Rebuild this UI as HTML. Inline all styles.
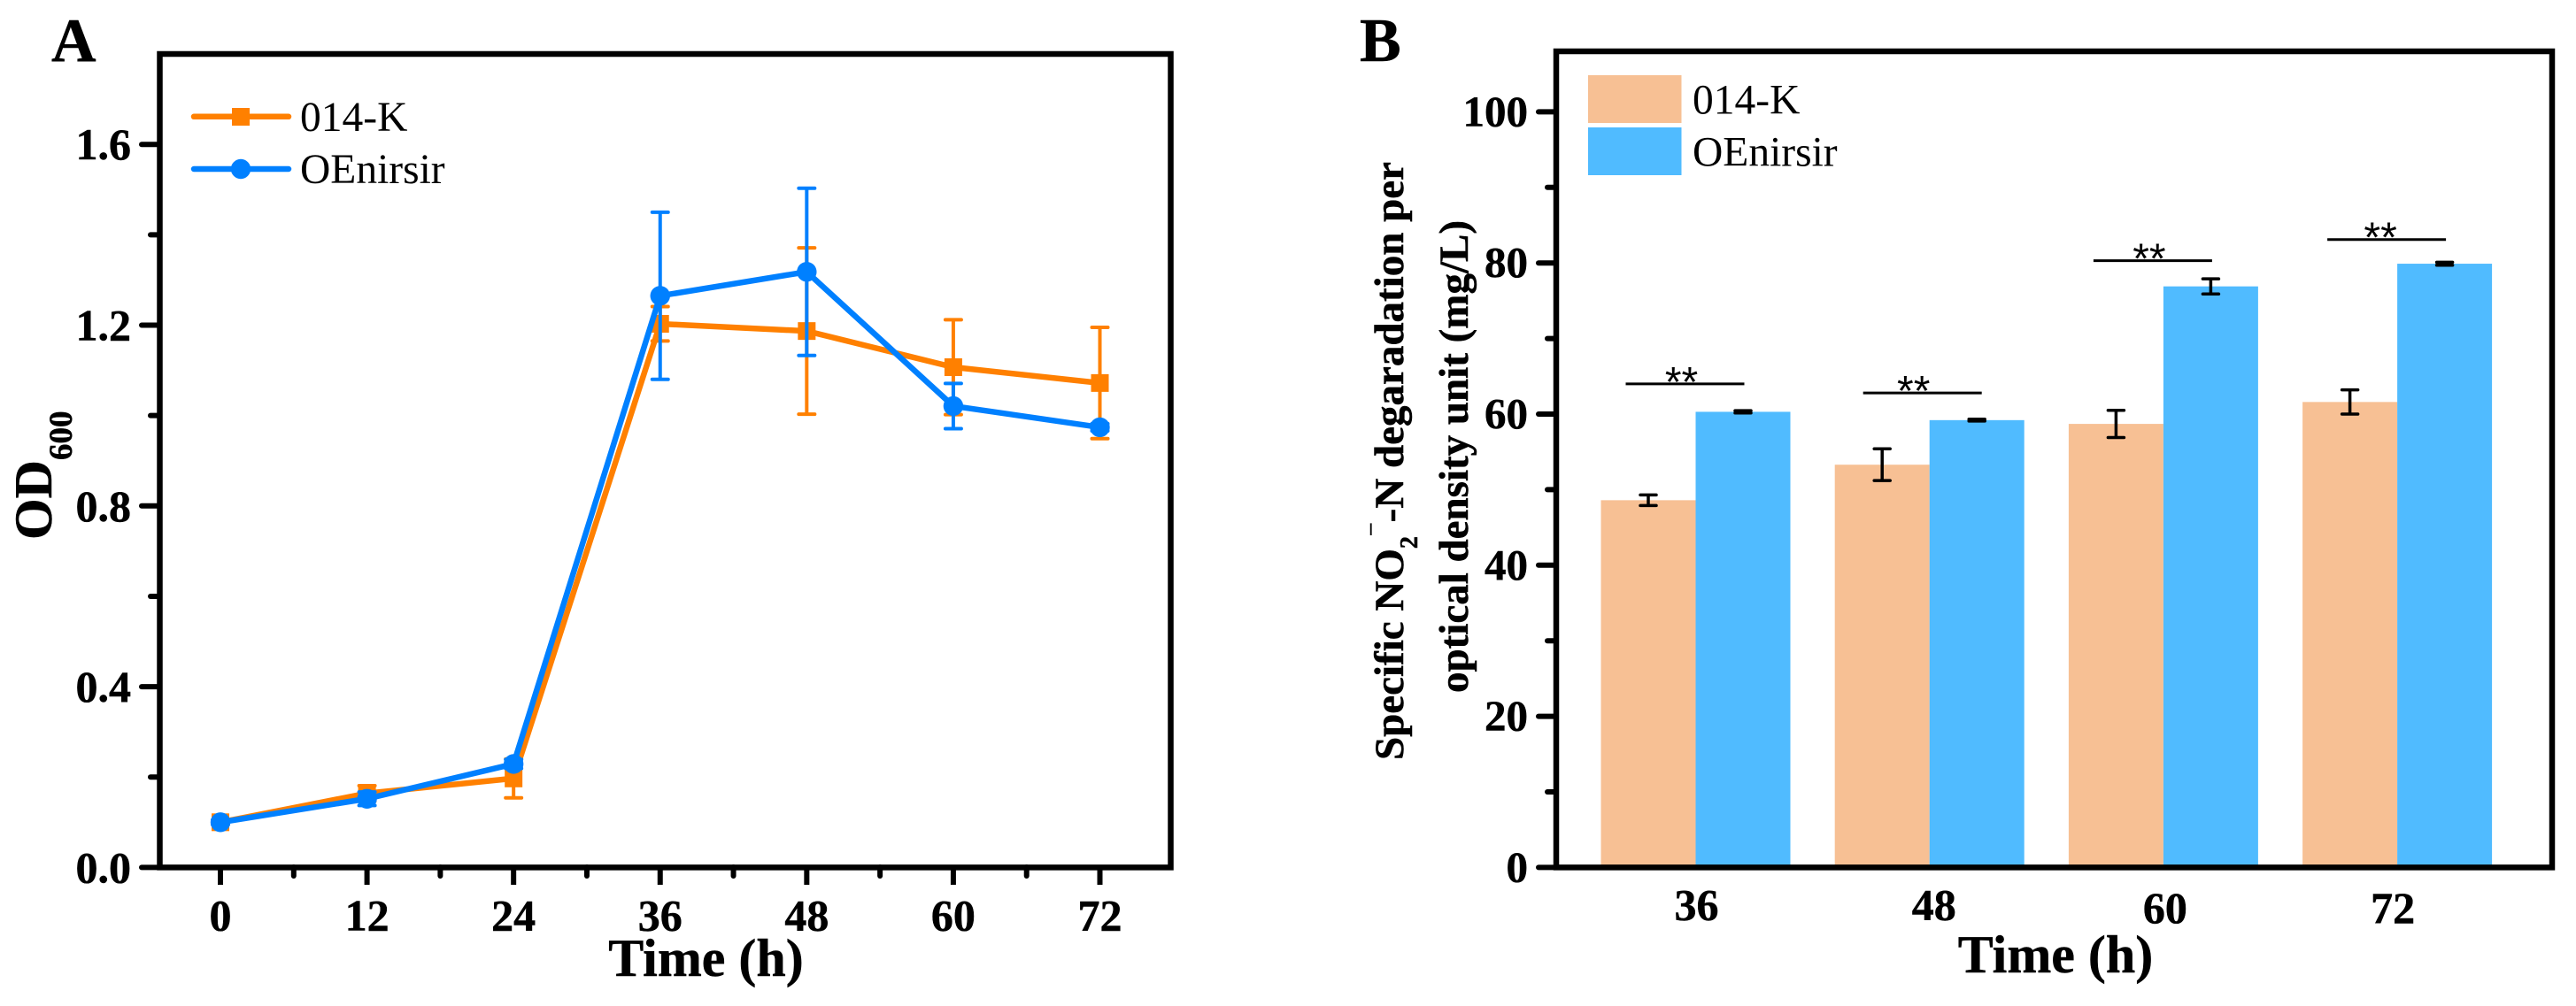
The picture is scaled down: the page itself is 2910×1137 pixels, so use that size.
<!DOCTYPE html>
<html lang="en">
<head>
<meta charset="utf-8">
<title>OD600 growth and specific nitrite degradation</title>
<style>
html,body{margin:0;padding:0;background:#fff;}
svg{display:block;}
text{font-family:"Liberation Serif","Times New Roman",serif;fill:#000;}
.bold{font-weight:bold;stroke:#000;stroke-width:0.5px;}
.stars{font-family:"Liberation Sans",Arial,sans-serif;}
</style>
</head>
<body>
<svg id="figure" xmlns="http://www.w3.org/2000/svg" width="2910" height="1137" viewBox="0 0 2910 1137">
  <rect x="0" y="0" width="2910" height="1137" fill="#fff"/>

  <g id="panel-a">
    <text class="bold" x="58" y="69.5" font-size="70">A</text>
    <g id="a-marks"></g>
    <rect x="180.5" y="61" width="1142" height="919.4" fill="none" stroke="#000" stroke-width="6.5"/>
    <g id="a-axes"></g>
    <text class="bold" font-size="60" transform="translate(58,610) rotate(-90)">OD<tspan font-size="37" dy="23">600</tspan></text>
    <text class="bold" font-size="60" x="797.5" y="1103" text-anchor="middle">Time (h)</text>
    <g>
      <g>
        <line x1="219" y1="131.8" x2="326" y2="131.8" stroke="#ff8000" stroke-width="6.5" stroke-linecap="round"/>
        <rect x="262" y="122" width="20" height="20" fill="#ff8000"/>
        <text x="339" y="148" font-size="47.5">014-K</text>
      </g>
      <g>
        <line x1="219" y1="191" x2="326" y2="191" stroke="#0080ff" stroke-width="6.5" stroke-linecap="round"/>
        <circle cx="272" cy="191" r="11.2" fill="#0080ff"/>
        <text x="339" y="207" font-size="47.5">OEnirsir</text>
      </g>
    </g>
  </g>

  <g id="panel-b">
    <text class="bold" x="1536" y="69" font-size="70">B</text>
    <g id="b-marks"></g>
    <rect x="1758" y="58" width="1125" height="922.4" fill="none" stroke="#000" stroke-width="6.5"/>
    <g id="b-axes"></g>
    <text class="bold" font-size="47" transform="translate(1585,859) rotate(-90)">Specific NO<tspan font-size="28" dy="16">2</tspan><tspan font-size="28" dy="-43" font-weight="normal">−</tspan><tspan dy="27">-N degaradation per</tspan></text>
    <text class="bold" font-size="47" x="0" y="0" transform="translate(1658,783) rotate(-90)">optical density unit (mg/L)</text>
    <text class="bold" font-size="60" x="2322" y="1099" text-anchor="middle">Time (h)</text>
    <g>
      <g>
        <rect x="1794" y="85" width="105.5" height="54" fill="#f7c094"/>
        <text x="1912" y="128.5" font-size="47.5">014-K</text>
      </g>
      <g>
        <rect x="1794" y="144" width="105.5" height="54" fill="#50bbff"/>
        <text x="1912" y="187.5" font-size="47.5">OEnirsir</text>
      </g>
    </g>
  </g>
</svg>

<script>
// ---------- Panel A data ----------
const hoursA = [0, 12, 24, 36, 48, 60, 72];
const k014Mean = [0.100, 0.164, 0.197, 1.203, 1.187, 1.107, 1.072];
const k014Err  = [0.005, 0.017, 0.043, 0.038, 0.184, 0.105, 0.123];
const oeMean   = [0.100, 0.152, 0.229, 1.265, 1.318, 1.021, 0.974];
const oeErr    = [0.005, 0.015, 0.010, 0.185, 0.185, 0.050, 0.008];
const yTicksA  = ['0.0', '0.4', '0.8', '1.2', '1.6'];
const yMinorA  = [0.2, 0.6, 1.0, 1.4];
const xMinorA  = [6, 18, 30, 42, 54, 66];

// ---------- Panel B data ----------
const hoursB = ['36', '48', '60', '72'];
const k014Bar = [48.6, 53.3, 58.7, 61.6];
const k014BarErr = [0.7, 2.1, 1.8, 1.6];
const oeBar = [60.3, 59.2, 76.9, 79.9];
const oeBarErr = [0.15, 0.12, 1.0, 0.2];
const sigLevels = [64.0, 62.8, 80.3, 83.1];
const sigLabels = ['**', '**', '**', '**'];
const yTicksB = ['0', '20', '40', '60', '80', '100'];
const yMinorB = [10, 30, 50, 70, 90];

// ---------- Axis functions ----------
const xA = v => 249 + (v / 72) * 993.5;
const yA = v => 980.4 - v * 510.75;
const xB = i => 1915.5 + i * 264.2;
const yB = v => 980.4 - v * 8.54;

const NS = 'http://www.w3.org/2000/svg';
function make(tag, attrs, parent, content) {
  const el = document.createElementNS(NS, tag);
  for (const k in attrs) el.setAttribute(k, attrs[k]);
  if (content !== undefined) el.textContent = content;
  parent.appendChild(el);
  return el;
}

const aMarks = document.getElementById('a-marks');
const aAxes = document.getElementById('a-axes');
const bMarks = document.getElementById('b-marks');
const bAxes = document.getElementById('b-axes');

// ---------- Panel A series ----------
function errorBars(mean, err, color, seriesName) {
  mean.forEach((m, i) => {
    const x = xA(hoursA[i]);
    const stem = make('line', {x1: x, x2: x, y1: yA(m + err[i]), y2: yA(m - err[i]), stroke: color, 'stroke-width': 4}, aMarks);
    
    
    [m + err[i], m - err[i]].forEach(v => {
      const cap = make('line', {x1: x - 9, x2: x + 9, y1: yA(v), y2: yA(v), stroke: color, 'stroke-width': 4, 'stroke-linecap': 'round'}, aMarks);
      
      
    });
  });
}
function seriesLine(mean, color, seriesName) {
  const pts = mean.map((m, i) => xA(hoursA[i]) + ',' + yA(m)).join(' ');
  const line = make('polyline', {points: pts, fill: 'none', stroke: color, 'stroke-width': 6.5, 'stroke-linejoin': 'round'}, aMarks);
  
  
}

errorBars(k014Mean, k014Err, '#ff8000', 'series-014-k');
seriesLine(k014Mean, '#ff8000', 'series-014-k');
k014Mean.forEach((m, i) => {
  const square = make('rect', {x: xA(hoursA[i]) - 10, y: yA(m) - 10, width: 20, height: 20, fill: '#ff8000'}, aMarks);
  
  
});
errorBars(oeMean, oeErr, '#0080ff', 'series-oenirsir');
seriesLine(oeMean, '#0080ff', 'series-oenirsir');
oeMean.forEach((m, i) => {
  const dot = make('circle', {cx: xA(hoursA[i]), cy: yA(m), r: 11.2, fill: '#0080ff'}, aMarks);
  
  
});

// ---------- Panel A axes ----------
yTicksA.forEach(label => {
  const v = parseFloat(label);
  const tick = make('line', {x1: 160, x2: 180, y1: yA(v), y2: yA(v), stroke: '#000', 'stroke-width': 6, 'stroke-linecap': 'round'}, aAxes);
  
  
  const text = make('text', {x: 148, y: yA(v) + 17, 'font-size': 50, 'text-anchor': 'end', 'class': 'bold'}, aAxes, label);
  
  
});
yMinorA.forEach(v => {
  const tick = make('line', {x1: 170, x2: 180, y1: yA(v), y2: yA(v), stroke: '#000', 'stroke-width': 6, 'stroke-linecap': 'round'}, aAxes);
  
  
});
hoursA.forEach(h => {
  const tick = make('line', {x1: xA(h), x2: xA(h), y1: 980, y2: 1000, stroke: '#000', 'stroke-width': 6}, aAxes);
  
  
  const text = make('text', {x: xA(h), y: 1051.5, 'font-size': 50, 'text-anchor': 'middle', 'class': 'bold'}, aAxes, String(h));
  
  
});
xMinorA.forEach(h => {
  const tick = make('line', {x1: xA(h), x2: xA(h), y1: 980, y2: 990, stroke: '#000', 'stroke-width': 6, 'stroke-linecap': 'round'}, aAxes);
  
  
});

// ---------- Panel B bars ----------
const barW = 107;
function barError(cx, mean, err) {
  const stem = make('line', {x1: cx, x2: cx, y1: yB(mean + err), y2: yB(mean - err), stroke: '#000', 'stroke-width': 3.5}, bMarks);
  
  
  [mean + err, mean - err].forEach(v => {
    const cap = make('line', {x1: cx - 9, x2: cx + 9, y1: yB(v), y2: yB(v), stroke: '#000', 'stroke-width': 3.5, 'stroke-linecap': 'round'}, bMarks);
    
    
  });
}
// hand placement of annotations and category labels in the original figure
const sigLineShift = i => (i === 1 ? 4 : 0);
const sigStarShift = i => (i === 0 || i === 2 ? -16 : (i === 1 ? -18 : -19));
const labelShift = i => (i === 0 ? 1 : (i === 1 ? 5 : (i === 2 ? 2 : -5)));
const labelBaseline = i => (i < 2 ? 1039.5 : 1043);

hoursB.forEach((label, i) => {
  const left = xB(i) - barW;
  const orange = make('rect', {x: left, y: yB(k014Bar[i]), width: barW, height: yB(0) - yB(k014Bar[i]), fill: '#f7c094'}, bMarks);
  
  
  const blue = make('rect', {x: xB(i), y: yB(oeBar[i]), width: barW, height: yB(0) - yB(oeBar[i]), fill: '#50bbff'}, bMarks);
  
  
  barError(xB(i) - barW / 2, k014Bar[i], k014BarErr[i]);
  barError(xB(i) + barW / 2, oeBar[i], oeBarErr[i]);

  const sig = make('line', {x1: xB(i) - 79 + sigLineShift(i), x2: xB(i) + 55 + sigLineShift(i), y1: yB(sigLevels[i]), y2: yB(sigLevels[i]), stroke: '#000', 'stroke-width': 3}, bMarks);
  
  
  const stars = make('text', {x: xB(i) + sigStarShift(i), y: yB(sigLevels[i]) + 14, 'font-size': 48, 'text-anchor': 'middle', 'class': 'stars'}, bMarks, sigLabels[i]);
  
  
});

// ---------- Panel B axes ----------
yTicksB.forEach(label => {
  const v = parseFloat(label);
  const tick = make('line', {x1: 1738, x2: 1758, y1: yB(v), y2: yB(v), stroke: '#000', 'stroke-width': 6, 'stroke-linecap': 'round'}, bAxes);
  
  
  const text = make('text', {x: 1726, y: yB(v) + 16, 'font-size': 49, 'text-anchor': 'end', 'class': 'bold'}, bAxes, label);
  
  
});
yMinorB.forEach(v => {
  const tick = make('line', {x1: 1748, x2: 1758, y1: yB(v), y2: yB(v), stroke: '#000', 'stroke-width': 6, 'stroke-linecap': 'round'}, bAxes);
  
  
});
hoursB.forEach((label, i) => {
  const text = make('text', {x: xB(i) + labelShift(i), y: labelBaseline(i), 'font-size': 50, 'text-anchor': 'middle', 'class': 'bold'}, bAxes, label);
  
  
});
</script>
</body>
</html>
